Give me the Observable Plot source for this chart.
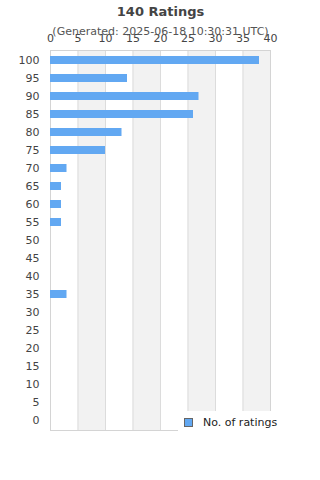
<!DOCTYPE html>
<html>
<head>
<meta charset="utf-8">
<script src="https://cdn.jsdelivr.net/npm/d3@7"></script>
<script src="https://cdn.jsdelivr.net/npm/@observablehq/plot@0.6"></script>
<style>
  html, body { margin: 0; padding: 0; background: #fff; }
  #wrap { position: relative; width: 320px; height: 480px; font-family: "DejaVu Sans", sans-serif; }
  #legend { position: absolute; left: 178px; top: 411px; width: 142px; height: 22px; background: #fff;
            font-size: 11px; color: #222; display: flex; align-items: center; }
  #legend .sw { width: 7px; height: 7px; background: #62a8f2; border: 1px solid #666; margin-left: 6px; margin-right: 10px; }
</style>
</head>
<body>
<div id="wrap"></div>
<script>
const titleText = "140 Ratings";
const subtitleText = "(Generated: 2025-06-18 10:30:31 UTC)";
const legendLabel = "No. of ratings";
const ratings = ["100","95","90","85","80","75","70","65","60","55","50","45","40","35","30","25","20","15","10","5","0"];
const counts  = [38, 14, 27, 26, 13, 10, 3, 2, 2, 2, 0, 0, 0, 3, 0, 0, 0, 0, 0, 0, 0];
const xTicks = [0, 5, 10, 15, 20, 25, 30, 35, 40];
const stripeStarts = [5, 15, 25, 35];
const stripeWidth = 5;
const barColor = "#62a8f2";

const data = ratings.map((r, i) => ({rating: r, count: counts[i]})).filter(d => d.count > 0);
const stripes = stripeStarts.map(s => ({x1: s, x2: s + stripeWidth}));

const chart = Plot.plot({
  width: 320,
  height: 480,
  marginLeft: 50,
  marginRight: 50,
  marginTop: 50,
  marginBottom: 50,
  style: {fontFamily: "DejaVu Sans, sans-serif", fontSize: "11px", color: "#444", background: "#fff"},
  x: {domain: [0, 40], ticks: xTicks, axis: null},
  y: {type: "band", domain: ratings, paddingInner: 0.55, paddingOuter: 0.275, axis: null},
  marks: [
    Plot.rect(stripes, {x1: "x1", x2: "x2", fill: "#f2f2f2"}),
    Plot.ruleX(xTicks, {stroke: "#dcdcdc", strokeWidth: 1}),
    Plot.frame({stroke: "#d4d4d4"}),
    Plot.barX(data, {x: "count", y: "rating", fill: barColor}),
    Plot.axisX(xTicks, {anchor: "top", tickSize: 0, tickPadding: 9, fill: "#444", fontSize: 11, label: null}),
    Plot.axisY(ratings, {anchor: "left", tickSize: 0, tickPadding: 11, fill: "#444", fontSize: 11, label: null}),
    Plot.text([titleText], {frameAnchor: "top", dy: -44, fontSize: 13, fontWeight: "bold", fill: "#444"}),
    Plot.text([subtitleText], {frameAnchor: "top", dy: -23, fontSize: 11, fill: "#555"})
  ]
});
document.getElementById("wrap").appendChild(chart);
const lg = document.createElement("div");
lg.id = "legend";
lg.innerHTML = '<span class="sw"></span><span></span>';
lg.lastChild.textContent = legendLabel;
document.getElementById("wrap").appendChild(lg);
</script>
</body>
</html>
